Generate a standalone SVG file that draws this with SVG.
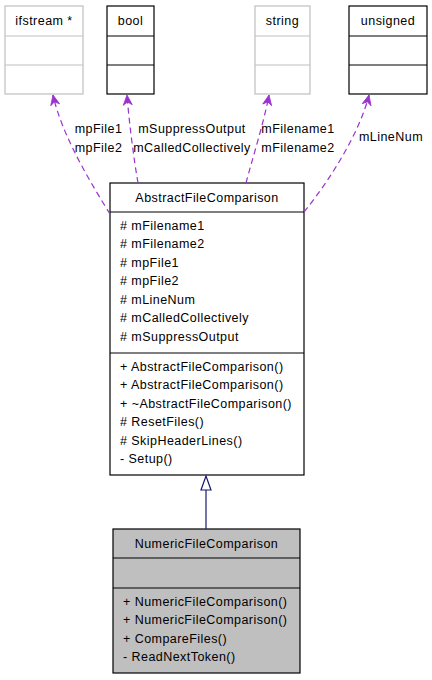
<svg xmlns="http://www.w3.org/2000/svg" width="432" height="680" viewBox="0 0 432 680">
<style>
text{font-family:"Liberation Sans",Arial,sans-serif;font-size:12.5px;letter-spacing:0.45px;fill:#000}
.c{text-anchor:middle}
.box{fill:#fff;stroke:#000;stroke-width:1.2}
.gbox{fill:#fff;stroke:#bfbfbf;stroke-width:1.2}
.gl{stroke:#bfbfbf;stroke-width:1.2}
.bl{stroke:#000;stroke-width:1.2}
.use{fill:none;stroke:#9a32cd;stroke-width:1.2;stroke-dasharray:6,4;marker-end:url(#vee)}
.inh{fill:none;stroke:#191970;stroke-width:1.2}
</style>
<defs>
<marker id="vee" viewBox="-1 -6 12 12" markerWidth="12" markerHeight="12" refX="10" refY="0" orient="auto" markerUnits="userSpaceOnUse">
<path d="M10,0 L0,-4.5 L3,0 L0,4.5 Z" fill="#9a32cd" stroke="#9a32cd" stroke-width="0.8"/>
</marker>
</defs>
<rect width="432" height="680" fill="#fff"/>
<g id="ifstream">
<rect class="gbox" x="5" y="6" width="78" height="88"/>
<line class="gl" x1="5" y1="36" x2="83" y2="36"/>
<line class="gl" x1="5" y1="65" x2="83" y2="65"/>
<text class="c" x="44" y="25">ifstream *</text>
</g>
<g id="bool">
<rect class="box" x="107" y="6" width="47" height="88"/>
<line class="bl" x1="107" y1="36" x2="154" y2="36"/>
<line class="bl" x1="107" y1="65" x2="154" y2="65"/>
<text class="c" x="130.5" y="25">bool</text>
</g>
<g id="string">
<rect class="gbox" x="255" y="6" width="55" height="88"/>
<line class="gl" x1="255" y1="36" x2="310" y2="36"/>
<line class="gl" x1="255" y1="65" x2="310" y2="65"/>
<text class="c" x="282.5" y="25">string</text>
</g>
<g id="unsigned">
<rect class="box" x="349" y="6" width="78" height="88"/>
<line class="bl" x1="349" y1="36" x2="427" y2="36"/>
<line class="bl" x1="349" y1="65" x2="427" y2="65"/>
<text class="c" x="388" y="25">unsigned</text>
</g>
<g id="AbstractFileComparison">
<rect class="box" x="110" y="183" width="194" height="292"/>
<line class="bl" x1="110" y1="212" x2="304" y2="212"/>
<line class="bl" x1="110" y1="353" x2="304" y2="353"/>
<text class="c" x="207" y="202">AbstractFileComparison</text>
<text x="120" y="229.5"># mFilename1</text>
<text x="120" y="248"># mFilename2</text>
<text x="120" y="266.5"># mpFile1</text>
<text x="120" y="285"># mpFile2</text>
<text x="120" y="303.5"># mLineNum</text>
<text x="120" y="322"># mCalledCollectively</text>
<text x="120" y="340.5"># mSuppressOutput</text>
<text x="120" y="370.5">+ AbstractFileComparison()</text>
<text x="120" y="389">+ AbstractFileComparison()</text>
<text x="120" y="407.5">+ ~AbstractFileComparison()</text>
<text x="120" y="426"># ResetFiles()</text>
<text x="120" y="444.5"># SkipHeaderLines()</text>
<text x="120" y="463">- Setup()</text>
</g>
<g id="NumericFileComparison">
<rect x="113" y="529" width="187" height="144" fill="#bfbfbf" stroke="#000" stroke-width="1.2"/>
<line class="bl" x1="113" y1="558" x2="300" y2="558"/>
<line class="bl" x1="113" y1="588" x2="300" y2="588"/>
<text class="c" x="206.5" y="547.5">NumericFileComparison</text>
<text x="123" y="605.5">+ NumericFileComparison()</text>
<text x="123" y="624">+ NumericFileComparison()</text>
<text x="123" y="642.5">+ CompareFiles()</text>
<text x="123" y="661">- ReadNextToken()</text>
</g>
<g id="connectors">
<path class="use" d="M110,214 C92,185 62,136 53,95"/>
<path class="use" d="M138,183 C134,160 129,122 127,95"/>
<path class="use" d="M246,183 C252,160 264,122 269,95"/>
<path class="use" d="M304,212 C330,180 360,132 369,95"/>
<text class="c" x="98.5" y="132.5">mpFile1</text>
<text class="c" x="98.5" y="151.5">mpFile2</text>
<text class="c" x="192" y="132.5">mSuppressOutput</text>
<text class="c" x="192" y="151.5">mCalledCollectively</text>
<text class="c" x="298" y="132.5">mFilename1</text>
<text class="c" x="298" y="151.5">mFilename2</text>
<text class="c" x="391" y="141">mLineNum</text>
<line class="inh" x1="206" y1="529" x2="206" y2="490"/>
<polygon class="inh" points="206,476 201,490 211,490"/>
</g>
</svg>
